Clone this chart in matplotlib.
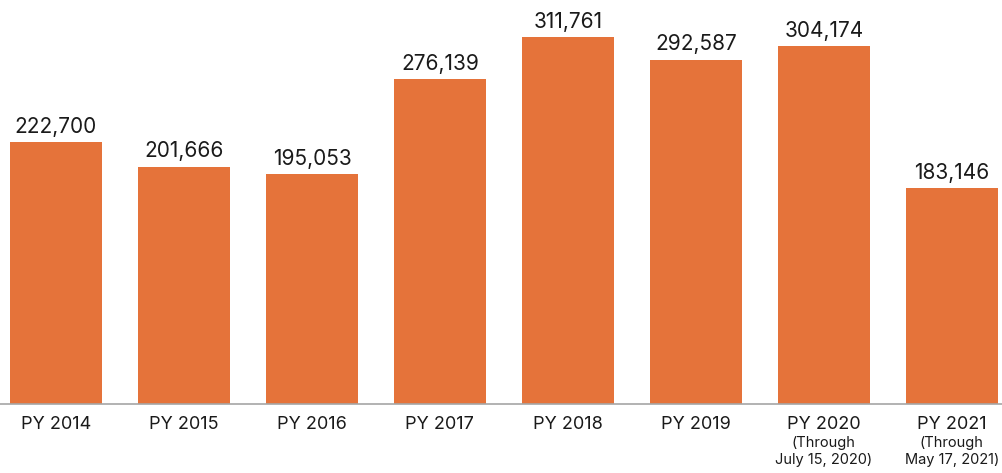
import matplotlib
matplotlib.use("Agg")
import matplotlib.pyplot as plt
import matplotlib.transforms as mtransforms

categories = ["PY 2014", "PY 2015", "PY 2016", "PY 2017", "PY 2018", "PY 2019", "PY 2020", "PY 2021"]
values = [222700, 201666, 195053, 276139, 311761, 292587, 304174, 183146]
sub_labels = {6: "(Through\nJuly 15, 2020)", 7: "(Through\nMay 17, 2021)"}

plt.rcParams['font.family'] = ['Inter', 'DejaVu Sans']

fig = plt.figure(figsize=(10.03, 4.73), dpi=100)
ax = fig.add_axes([0, 0.1459, 1, 0.8541])

x = list(range(len(categories)))
bars = ax.bar(x, values, width=0.72, color="#E5733A")

for xi, v in zip(x, values):
	ax.text(xi, v + 4500, f"{v:,}", ha="center", va="bottom", fontsize=15, color="#1a1a1a")

ax.set_xlim(-0.4375, 7.4)
ax.set_ylim(0, 343200)
ax.set_yticks([])
ax.set_xticks(x)
ax.set_xticklabels(categories, fontsize=13, color="#1a1a1a")
ax.tick_params(axis="x", length=0, pad=9)

trans = mtransforms.blended_transform_factory(ax.transData, fig.transFigure)
for i, txt in sub_labels.items():
	ax.text(i, 0.079, txt, ha="center", va="top", fontsize=10.5, color="#1a1a1a",
		transform=trans, linespacing=1.3)

for s in ["top", "right", "left"]:
	ax.spines[s].set_visible(False)
ax.spines["bottom"].set_color("#A6A6A6")
ax.spines["bottom"].set_linewidth(1.2)

fig.savefig("out.png", dpi=100)
